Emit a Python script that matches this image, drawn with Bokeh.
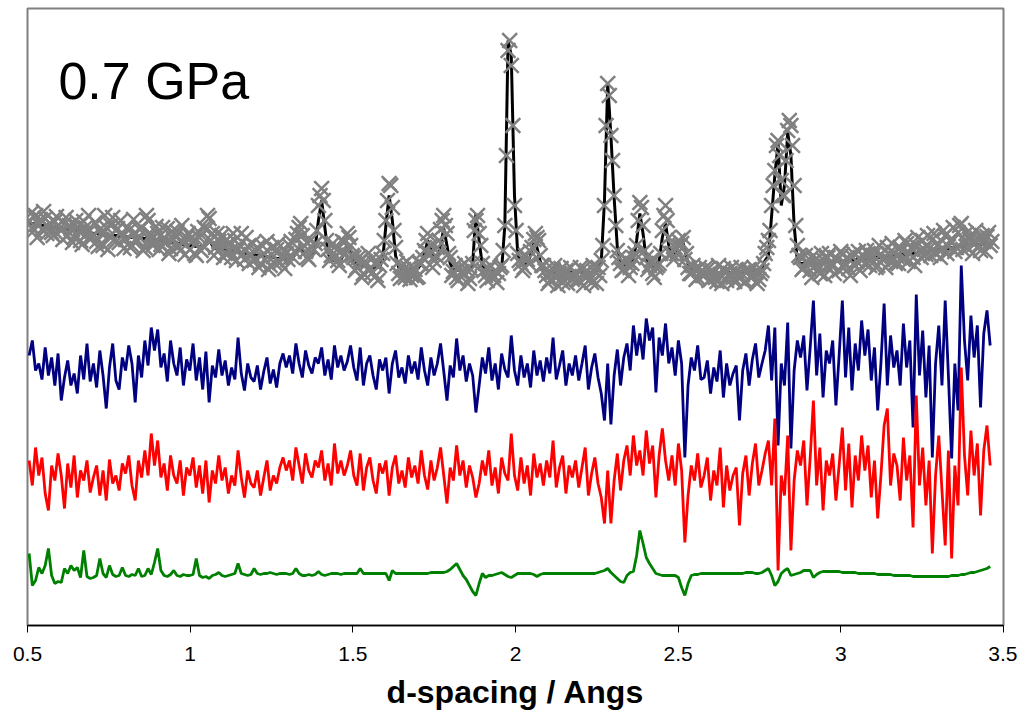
import numpy as np
from bokeh.plotting import figure
from bokeh.models import Range1d, Label, FixedTicker, NumeralTickFormatter
from bokeh.embed import file_html
from bokeh.resources import INLINE

# d-spacing sampling grid (Angstrom); observed data also sampled at half steps
d_start = 0.505
d_step = 0.00988

# observed intensity (grey crosses) on the main grid, arbitrary offset units
observed = [
    405, 398, 410, 401, 396, 407, 399, 393, 404, 400,
    395, 402, 390, 397, 388, 399, 385, 404, 392, 386,
    391, 384, 396, 380, 398, 389, 408, 395, 383, 390,
    386, 395, 380, 393, 389, 398, 378, 405, 391, 384,
    392, 381, 388, 397, 377, 386, 394, 375, 383, 388,
    376, 385, 370, 388, 380, 396, 407, 392, 378, 384,
    390, 372, 382, 368, 385, 376, 392, 366, 379, 371,
    365, 378, 362, 372, 384, 360, 369, 376, 363, 370,
    372, 380, 368, 386, 398, 390, 374, 366, 378, 382,
    420, 437, 405, 376, 370, 378, 365, 374, 383, 392,
    380, 368, 358, 365, 352, 362, 356, 368, 350, 360,
    372, 405, 442, 418, 378, 352, 360, 348, 357, 350,
    356, 349, 362, 375, 392, 380, 365, 378, 396, 410,
    392, 368, 354, 348, 358, 351, 356, 347, 362, 405,
    392, 362, 350, 357, 348, 355, 352, 360, 400, 575,
    560, 420, 372, 362, 358, 366, 374, 386, 388, 370,
    360, 350, 345, 356, 348, 352, 343, 355, 349, 346,
    352, 345, 356, 348, 350, 343, 354, 358, 365, 420,
    542, 490, 430, 375, 362, 356, 365, 358, 368, 380,
    423, 400, 368, 360, 352, 358, 362, 395, 420, 388,
    372, 378, 385, 382, 366, 358, 352, 356, 348, 354,
    350, 356, 346, 353, 344, 351, 357, 345, 352, 348,
    355, 347, 351, 344, 356, 349, 353, 346, 355, 372,
    385, 420, 455, 485, 445, 430, 495, 500, 440, 380,
    368, 358, 364, 355, 370, 361, 352, 366, 359, 372,
    360, 368, 355, 371, 362, 357, 369, 360, 374, 365,
    362, 372, 366, 375, 360, 371, 368, 378, 364, 373,
    369, 378, 366, 382, 372, 368, 380, 374, 385, 371,
    377, 386, 372, 381, 376, 390, 379, 384, 374, 393,
    402, 385, 378, 390, 381, 387, 375, 384, 389, 380,
]

# observed intensity at the half-step positions
observed_half = [
    412, 395, 388, 406, 414, 392, 402, 390, 409, 397,
    386, 408, 400, 383, 405, 394, 381, 398, 410, 389,
    403, 379, 392, 410, 376, 400, 386, 397, 405, 377,
    398, 378, 406, 384, 396, 375, 410, 386, 380, 399,
    376, 398, 383, 372, 394, 389, 379, 400, 371, 392,
    388, 372, 394, 375, 398, 410, 385, 370, 392, 377,
    368, 386, 374, 392, 365, 380, 372, 388, 362, 382,
    375, 358, 380, 366, 356, 378, 362, 382, 368, 357,
    366, 384, 374, 392, 402, 380, 368, 385, 376, 395,
    430, 425, 385, 365, 382, 370, 360, 384, 372, 388,
    370, 355, 368, 348, 364, 372, 352, 362, 345, 366,
    385, 425, 440, 395, 362, 347, 356, 364, 346, 358,
    348, 362, 368, 385, 372, 358, 370, 385, 405, 400,
    372, 350, 360, 345, 354, 362, 342, 356, 395, 410,
    380, 355, 345, 360, 350, 343, 358, 375, 470, 585,
    500, 395, 365, 355, 370, 362, 378, 392, 385, 360,
    355, 342, 352, 360, 340, 357, 350, 342, 358, 348,
    346, 358, 340, 355, 346, 360, 342, 350, 380, 500,
    530, 465, 400, 368, 355, 366, 350, 362, 372, 405,
    418, 375, 356, 365, 348, 360, 372, 410, 405, 372,
    366, 372, 380, 388, 372, 352, 360, 346, 358, 350,
    358, 345, 355, 348, 360, 342, 354, 350, 358, 344,
    350, 358, 343, 355, 348, 358, 342, 352, 362, 378,
    395, 440, 480, 470, 430, 465, 505, 480, 400, 370,
    356, 370, 362, 348, 365, 356, 372, 350, 368, 360,
    352, 366, 374, 358, 368, 350, 372, 364, 355, 370,
    375, 360, 370, 358, 380, 366, 358, 372, 382, 362,
    362, 375, 385, 364, 378, 360, 388, 368, 376, 390,
    370, 392, 380, 368, 395, 372, 385, 398, 378, 400,
    376, 392, 386, 372, 395, 380, 390, 374, 393, 384,
]

# calculated profile (black line)
calculated = [
    402, 402, 401, 401, 400, 400, 399, 399, 398, 398,
    397, 397, 396, 396, 395, 395, 394, 394, 393, 393,
    392, 392, 391, 391, 391, 390, 390, 390, 389, 389,
    389, 388, 388, 388, 387, 387, 387, 386, 386, 386,
    385, 385, 384, 384, 383, 383, 382, 382, 381, 381,
    380, 380, 379, 379, 378, 382, 386, 380, 377, 376,
    376, 375, 375, 374, 374, 373, 373, 372, 372, 371,
    371, 370, 370, 369, 369, 368, 368, 367, 367, 367,
    367, 367, 368, 372, 378, 374, 369, 368, 369, 378,
    405, 425, 398, 372, 366, 365, 365, 366, 372, 380,
    372, 364, 361, 360, 359, 359, 358, 358, 358, 358,
    366, 400, 430, 405, 370, 358, 357, 356, 356, 356,
    356, 357, 362, 372, 385, 376, 364, 368, 380, 397,
    380, 362, 356, 355, 355, 355, 355, 356, 362, 412,
    385, 360, 357, 355, 355, 355, 355, 356, 400, 585,
    570, 430, 372, 362, 360, 362, 370, 382, 378, 364,
    357, 355, 354, 354, 353, 353, 353, 353, 353, 353,
    353, 353, 353, 353, 353, 353, 354, 356, 364, 425,
    542, 490, 428, 378, 364, 360, 362, 362, 366, 385,
    412, 392, 366, 360, 358, 360, 365, 388, 402, 380,
    366, 372, 380, 387, 376, 362, 357, 355, 354, 354,
    354, 353, 353, 353, 353, 353, 353, 353, 353, 353,
    353, 353, 354, 354, 354, 355, 355, 356, 358, 365,
    370, 410, 450, 482, 420, 440, 493, 470, 400, 365,
    362, 362, 362, 362, 362, 362, 362, 363, 363, 363,
    363, 364, 364, 364, 365, 365, 365, 366, 366, 366,
    367, 367, 367, 368, 368, 368, 369, 369, 369, 370,
    370, 371, 371, 371, 372, 372, 373, 373, 373, 374,
    374, 375, 375, 376, 376, 377, 377, 378, 378, 379,
    379, 380, 380, 380, 381, 381, 381, 382, 382, 382,
]

# difference curve 1 (navy)
difference_a = [
    270, 285, 255, 262, 246, 278, 250, 268, 240, 272,
    225, 248, 265, 240, 252, 232, 270, 246, 282, 244,
    262, 238, 275, 250, 217, 258, 282, 245, 236, 268,
    255, 280, 262, 223, 270, 248, 285, 260, 298, 275,
    296, 258, 272, 244, 285, 262, 250, 278, 240, 266,
    255, 282, 245, 268, 236, 274, 223, 260, 248, 276,
    250, 265, 240, 258, 246, 288, 252, 235, 262, 248,
    244, 260, 236, 254, 268, 242, 256, 238, 262, 272,
    258, 270, 252, 282, 262, 248, 275, 260, 252, 268,
    262, 278, 250, 266, 246, 280, 258, 270, 255, 264,
    280, 258, 245, 278, 240, 262, 270, 250, 236, 266,
    255, 268, 232, 262, 275, 248, 258, 242, 270, 252,
    264, 246, 278, 255, 240, 268, 250, 262, 282, 254,
    225, 260, 248, 287, 255, 270, 244, 262, 250, 213,
    240, 268, 252, 278, 245, 262, 236, 272, 256, 248,
    290, 255, 240, 270, 248, 262, 238, 275, 250, 265,
    244, 268, 252, 288, 246, 260, 275, 240, 262, 250,
    270, 245, 262, 280, 236, 258, 272, 248, 232, 205,
    262, 201, 250, 276, 240, 268, 282, 255, 300, 270,
    292, 266, 307, 285, 298, 233, 288, 270, 302, 262,
    278, 250, 285, 262, 168, 240, 268, 255, 280, 246,
    248, 265, 232, 258, 244, 275, 228, 262, 240, 252,
    260, 205, 255, 272, 240, 266, 282, 248, 262, 275,
    300, 245, 298, 180, 262, 240, 303, 177, 255, 285,
    268, 290, 235, 278, 325, 250, 292, 228, 275, 262,
    285, 220, 270, 325, 248, 298, 235, 282, 255, 305,
    270, 296, 245, 278, 215, 262, 322, 240, 290, 258,
    275, 240, 302, 258, 285, 198, 331, 250, 295, 228,
    280, 168, 262, 300, 240, 325, 250, 167, 262, 215,
    360, 285, 245, 310, 268, 300, 218, 292, 315, 280,
]

# difference curve 2 (red)
difference_b = [
    165, 140, 178, 150, 168, 132, 115, 160, 145, 172,
    150, 117, 162, 138, 170, 128, 155, 145, 165, 133,
    148, 160, 130, 155, 125, 166, 142, 150, 135, 162,
    152, 170, 140, 125, 165, 148, 175, 150, 192, 160,
    185, 148, 162, 135, 170, 150, 142, 165, 130, 158,
    150, 168, 138, 160, 132, 165, 123, 155, 142, 170,
    145, 158, 132, 150, 140, 175, 148, 128, 155, 142,
    138, 155, 130, 148, 165, 135, 150, 142, 158, 168,
    155, 165, 145, 178, 160, 142, 172, 155, 148, 165,
    158, 175, 145, 162, 140, 182, 152, 165, 150, 160,
    175, 150, 140, 172, 135, 158, 168, 145, 132, 162,
    152, 165, 130, 158, 170, 142, 155, 138, 168, 148,
    160, 142, 175, 150, 136, 165, 145, 158, 178, 150,
    122, 158, 145, 180, 150, 165, 138, 160, 148, 128,
    142, 165, 150, 175, 140, 158, 132, 168, 152, 145,
    192, 150, 135, 168, 142, 160, 130, 172, 148, 162,
    140, 165, 148, 185, 138, 158, 170, 132, 160, 148,
    165, 138, 158, 178, 130, 152, 168, 142, 128, 102,
    155, 102, 145, 172, 135, 165, 180, 150, 190, 160,
    175, 150, 195, 162, 180, 128, 170, 197, 165, 145,
    170, 140, 182, 155, 83, 130, 160, 145, 172, 138,
    150, 168, 125, 155, 140, 178, 118, 160, 135, 150,
    158, 100, 152, 170, 130, 162, 182, 140, 155, 172,
    185, 140, 207, 55, 150, 130, 190, 75, 145, 175,
    160, 185, 120, 168, 225, 140, 178, 115, 165, 150,
    172, 125, 160, 198, 135, 182, 118, 170, 145, 190,
    155, 180, 128, 165, 107, 150, 200, 217, 140, 172,
    160, 125, 188, 145, 170, 98, 230, 140, 178, 120,
    165, 72, 150, 190, 135, 80, 175, 67, 160, 120,
    258, 170, 130, 195, 150, 182, 110, 175, 200, 160,
]

# bottom curve (green)
reference_curve = [
    72, 40, 45, 58, 52, 60, 77, 50, 42, 44,
    43, 57, 52, 60, 55, 58, 48, 75, 49, 47,
    48, 50, 67, 52, 48, 60, 51, 49, 50, 58,
    50, 49, 51, 50, 57, 49, 50, 57, 51, 63,
    77, 55, 50, 49, 51, 55, 50, 49, 51, 50,
    50, 51, 67, 50, 48, 49, 47, 50, 51, 53,
    50, 49, 50, 51, 52, 62, 52, 51, 50, 51,
    57, 52, 51, 52, 52, 53, 52, 51, 52, 52,
    52, 51, 52, 57, 52, 50, 50, 51, 50, 51,
    54, 51, 50, 51, 52, 52, 52, 51, 52, 52,
    52, 52, 52, 57, 52, 52, 52, 52, 52, 52,
    52, 52, 45, 55, 52, 52, 52, 52, 52, 52,
    52, 52, 52, 52, 52, 53, 53, 53, 53, 53,
    54, 56, 59, 62, 56, 50, 46, 40, 34, 30,
    42, 52, 48, 50, 50, 51, 52, 53, 51, 49,
    48, 50, 52, 52, 52, 52, 52, 51, 49, 51,
    52, 52, 52, 52, 52, 52, 52, 52, 52, 52,
    52, 52, 52, 52, 52, 52, 52, 53, 54, 55,
    57, 53, 50, 47, 44, 43, 50, 53, 54, 70,
    95, 82, 68, 62, 57, 52, 51, 50, 50, 50,
    50, 50, 48, 38, 30, 42, 50, 51, 51, 52,
    52, 52, 52, 52, 52, 52, 52, 52, 52, 52,
    52, 52, 52, 53, 53, 53, 52, 52, 53, 55,
    57, 50, 40, 44, 52, 55, 57, 50, 51, 52,
    53, 55, 55, 55, 48, 51, 53, 54, 54, 54,
    54, 54, 54, 53, 53, 53, 53, 53, 52, 52,
    52, 52, 52, 52, 51, 51, 51, 51, 51, 50,
    50, 50, 50, 50, 50, 49, 49, 49, 49, 49,
    49, 49, 49, 49, 49, 49, 49, 50, 50, 50,
    51, 51, 52, 53, 53, 54, 55, 56, 57, 59,
]

tick_values = [0.5, 1.0, 1.5, 2.0, 2.5, 3.0, 3.5]
title_text = "0.7 GPa"
x_title = "d-spacing / Angs"

n = min(len(observed), len(calculated), len(difference_a), len(difference_b), len(reference_curve))
d = d_start + d_step * np.arange(n)
nh = min(len(observed_half), n)
d_half = d_start + d_step * (np.arange(nh) + 0.5)
d_obs = np.concatenate([d, d_half])
obs_all = list(observed[:n]) + list(observed_half[:nh])

p = figure(width=1017, height=725, output_backend="svg", toolbar_location=None,
           x_range=Range1d(0.5, 3.5), y_range=Range1d(0, 617),
           min_border_left=27, min_border_right=14, min_border_top=8,
           min_border_bottom=100)
p.background_fill_color = "white"
p.border_fill_color = "white"
p.outline_line_color = "#808080"
p.outline_line_width = 2
p.grid.visible = False
p.yaxis.visible = False

p.line(d, calculated[:n], line_color="black", line_width=3)
p.scatter(d_obs, obs_all, marker="x", size=21, line_color="#808080", line_width=2.5)
p.line(d, difference_a[:n], line_color="#000080", line_width=2.8)
p.line(d, difference_b[:n], line_color="#FF0000", line_width=2.8)
p.line(d, reference_curve[:n], line_color="#008000", line_width=2.8)

xa = p.xaxis[0]
xa.ticker = FixedTicker(ticks=tick_values)
xa.formatter = NumeralTickFormatter(format="0.[0]")
xa.axis_line_color = "black"
xa.axis_line_width = 1.5
xa.major_tick_out = 7
xa.major_tick_in = 0
xa.major_tick_line_color = "black"
xa.minor_tick_line_color = None
xa.major_label_text_font = "Liberation Sans"
xa.major_label_text_font_size = "21px"
xa.major_label_text_color = "black"
xa.major_label_standoff = 14
xa.axis_label = x_title
xa.axis_label_text_font = "Liberation Sans"
xa.axis_label_text_font_style = "bold"
xa.axis_label_text_font_size = "32px"
xa.axis_label_text_color = "black"
xa.axis_label_standoff = 10

p.add_layout(Label(x=0.595, y=545, text=title_text, text_font="Liberation Sans",
                   text_font_size="52px", text_color="black",
                   text_baseline="alphabetic"))

open("out.html", "w").write(file_html(p, INLINE))
